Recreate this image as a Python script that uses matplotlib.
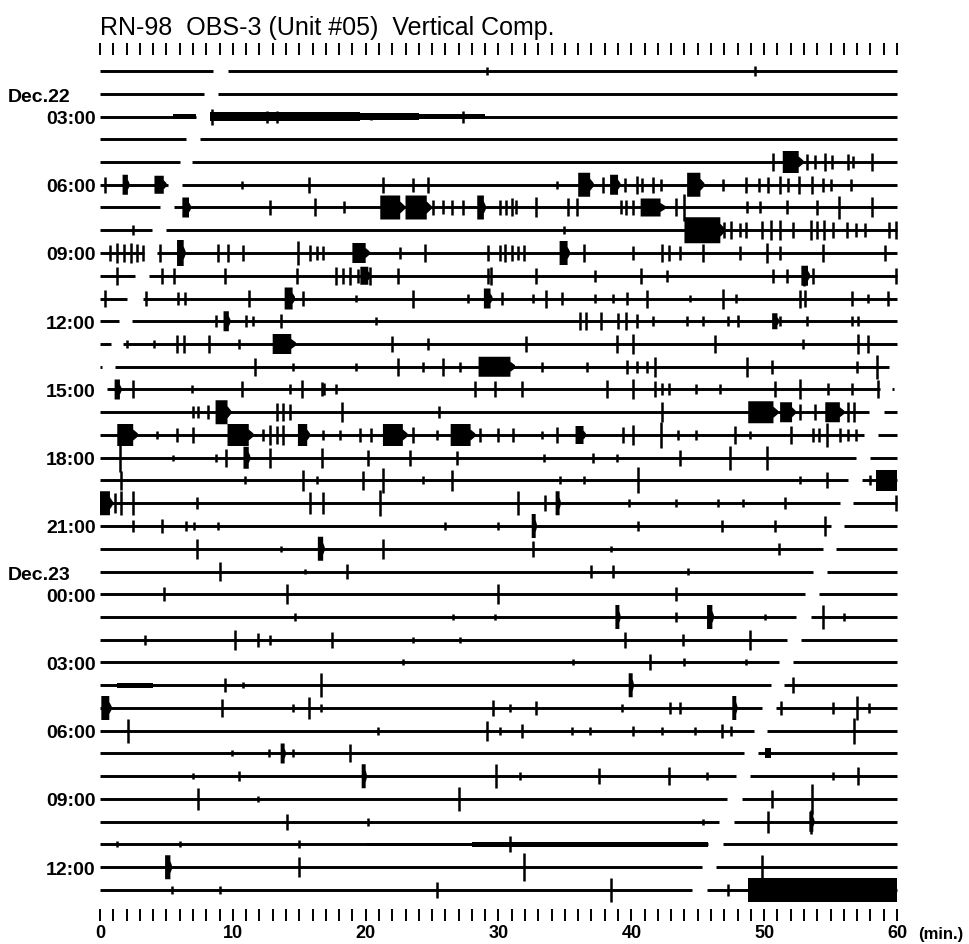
import matplotlib
matplotlib.use("Agg")
import matplotlib.pyplot as plt

# helicorder record, one row per hour: 01:00 Dec.22 .. 13:00 Dec.23
hour_rows = [2, 5, 8, 11, 14, 17, 20, 23, 26, 29, 32, 35]
hour_labels = ["03:00", "06:00", "09:00", "12:00", "15:00", "18:00",
               "21:00", "00:00", "03:00", "06:00", "09:00", "12:00"]
day_labels = ["Dec.22", "Dec.23"]
day_rows = [2, 23]

# recorded stretches of each row (minutes)
segments = [
    [(0, 8.5), (9.6, 60)], [(0, 7.8), (8.9, 60)], [(0, 7.2), (8.3, 60)],
    [(0, 6.5), (7.5, 60)], [(0, 6.0), (6.9, 60)], [(0, 5.1), (6.2, 60)],
    [(0, 4.5), (5.6, 60)], [(0, 3.9), (5.0, 60)], [(0, 3.3), (4.3, 60)],
    [(0, 2.6), (3.7, 60)], [(0, 2.0), (3.2, 60)], [(0, 1.4), (2.4, 60)],
    [(0, 0.8), (1.7, 60)], [(0, 0.15), (1.1, 59.4)], [(0.5, 58.7), (59.6, 59.8)],
    [(0, 57.9), (59.0, 60)], [(0, 57.5), (58.6, 60)], [(0, 56.9), (58.0, 60)],
    [(0, 56.3), (57.4, 60)], [(0, 55.7), (56.7, 60)], [(0, 55.0), (56.0, 60)],
    [(0, 54.4), (55.4, 60)], [(0, 53.7), (54.7, 60)], [(0, 53.1), (54.1, 60)],
    [(0, 52.4), (53.5, 60)], [(0, 51.7), (52.8, 60)], [(0, 51.1), (52.2, 60)],
    [(0, 50.5), (51.5, 60)], [(0, 49.8), (50.9, 60)], [(0, 49.2), (50.2, 60)],
    [(0, 48.5), (49.5, 60)], [(0, 47.9), (48.9, 60)], [(0, 47.2), (48.3, 60)],
    [(0, 46.6), (47.7, 60)], [(0, 45.8), (46.9, 60)], [(0, 45.3), (46.4, 60)],
    [(0, 44.6), (45.7, 60)],
]

# short events: (minute, amplitude)
spikes = [
    [(29.1, 4), (49.3, 5)],
    [],
    [(8.4, 8), (12.6, 6), (13.3, 6), (20.4, 3), (27.3, 6)],
    [],
    [(50.7, 9), (53.2, 8), (53.8, 7), (54.6, 9), (55.1, 7), (56.3, 8), (56.7, 6), (58.1, 9)],
    [(0.4, 8), (10.7, 4), (15.7, 8), (21.3, 8), (23.6, 7), (24.7, 8), (34.4, 4), (37.9, 8),
     (39.5, 7), (40.4, 9), (40.8, 7), (41.6, 8), (42.2, 6), (46.9, 6), (48.6, 8), (49.6, 7),
     (50.3, 8), (51.2, 9), (51.8, 7), (52.6, 9), (53.6, 9), (54.4, 7), (55.0, 6), (56.5, 6)],
    [(12.8, 8), (16.2, 9), (18.4, 6), (25.1, 8), (25.8, 7), (26.5, 8), (27.3, 8), (30.1, 8),
     (30.6, 8), (31.0, 9), (31.3, 7), (32.8, 10), (35.2, 9), (35.9, 9), (39.2, 7), (39.6, 8),
     (40.1, 8), (43.4, 9), (44.0, 14), (48.7, 6), (49.7, 6), (51.7, 7), (54.0, 8), (55.6, 12),
     (58.1, 10)],
    [(2.5, 5), (34.9, 4), (47.0, 8), (47.5, 9), (48.2, 7), (48.6, 8), (49.8, 9), (50.5, 10),
     (51.2, 10), (52.2, 8), (53.5, 10), (54.0, 9), (54.5, 10), (55.2, 8), (56.2, 8), (56.9, 7),
     (57.6, 7), (59.4, 8), (59.9, 9)],
    [(0.75, 8), (1.3, 10), (1.8, 9), (2.3, 10), (2.8, 9), (3.2, 8), (4.5, 9), (8.9, 9),
     (9.6, 9), (10.8, 8), (14.9, 12), (15.8, 8), (16.3, 7), (16.8, 7), (22.6, 6), (24.5, 9),
     (29.2, 8), (30.1, 8), (30.5, 9), (31.0, 8), (31.5, 7), (31.9, 8), (36.4, 9), (40.1, 7),
     (42.3, 9), (42.8, 8), (43.7, 7), (45.4, 9), (48.2, 7), (50.2, 10), (51.2, 7), (54.4, 9),
     (59.1, 8)],
    [(1.3, 9), (4.7, 8), (5.6, 8), (9.4, 8), (14.8, 8), (17.8, 9), (18.3, 8), (18.8, 9),
     (19.4, 7), (20.3, 9), (22.4, 8), (29.2, 8), (29.4, 9), (32.8, 8), (37.3, 6), (40.7, 8),
     (42.7, 6), (50.7, 7), (51.7, 7), (53.0, 10), (53.7, 8), (59.9, 8)],
    [(0.4, 8), (3.5, 7), (5.9, 6), (6.4, 6), (11.2, 8), (15.3, 7), (19.3, 4), (23.6, 9),
     (27.7, 5), (30.3, 6), (32.6, 5), (33.6, 9), (34.8, 6), (37.3, 5), (38.6, 5), (39.7, 6),
     (41.2, 9), (44.4, 4), (46.9, 10), (47.9, 5), (52.7, 9), (53.1, 8), (56.6, 7), (57.8, 5),
     (59.3, 7)],
    [(8.7, 6), (11.0, 6), (11.5, 5), (13.6, 7), (20.8, 4), (36.1, 9), (36.6, 9), (37.7, 9),
     (39.0, 8), (39.6, 9), (40.4, 7), (41.6, 5), (44.2, 5), (45.4, 5), (47.3, 5), (48.0, 6),
     (51.2, 5), (53.2, 5), (56.6, 5), (57.1, 5)],
    [(2.0, 4), (4.1, 4), (5.8, 9), (6.3, 9), (8.2, 9), (10.5, 5), (22.0, 8), (24.7, 6),
     (32.1, 8), (38.9, 9), (40.1, 10), (46.3, 9), (52.9, 5), (57.1, 10), (57.8, 9)],
    [(11.7, 9), (14.5, 4), (19.3, 4), (22.4, 9), (24.3, 5), (25.8, 9), (27.1, 5), (33.3, 5),
     (36.7, 5), (39.7, 7), (40.4, 6), (41.2, 6), (41.8, 10), (48.7, 10), (50.6, 7), (57.0, 6),
     (58.5, 12)],
    [(2.5, 9), (6.9, 4), (10.7, 8), (14.3, 5), (15.2, 9), (16.7, 7), (16.9, 6), (17.8, 5),
     (28.2, 8), (29.7, 8), (31.8, 8), (38.2, 9), (40.1, 10), (41.8, 8), (42.3, 6), (42.8, 6),
     (44.9, 5), (46.7, 5), (50.8, 8), (52.7, 10), (54.8, 6), (56.6, 6), (58.6, 9)],
    [(7.0, 6), (7.4, 6), (8.1, 7), (13.3, 9), (13.8, 9), (14.3, 8), (18.2, 10), (25.5, 6),
     (42.3, 10), (52.7, 8), (53.8, 8), (56.3, 10), (56.8, 10)],
    [(4.3, 4), (5.8, 7), (7.0, 8), (12.3, 6), (12.8, 10), (13.3, 9), (13.8, 10), (16.8, 5),
     (18.1, 5), (19.6, 7), (20.4, 7), (23.6, 8), (25.4, 5), (28.6, 7), (30.0, 7), (31.1, 7),
     (33.3, 4), (34.4, 8), (39.4, 8), (40.1, 10), (42.2, 13), (43.5, 5), (44.9, 5), (47.8, 9),
     (48.9, 4), (52.0, 9), (53.7, 7), (54.1, 7), (54.7, 12), (55.7, 7), (56.3, 6), (56.9, 6)],
    [(1.5, 14), (5.5, 3), (8.7, 4), (9.5, 9), (12.8, 10), (16.7, 10), (20.2, 8), (23.3, 8),
     (26.9, 7), (33.4, 4), (37.1, 5), (38.9, 4), (43.7, 8), (47.4, 12), (50.2, 12)],
    [(1.6, 10), (10.9, 4), (15.3, 11), (16.3, 4), (19.8, 10), (21.3, 12), (24.3, 4), (26.5, 11),
     (34.6, 4), (36.4, 4), (40.5, 13), (52.7, 4), (54.7, 8), (58.0, 5)],
    [(1.1, 10), (1.6, 12), (2.5, 12), (7.3, 6), (15.8, 11), (16.8, 11), (21.1, 13), (31.5, 12),
     (33.5, 8), (39.8, 4), (43.4, 4), (46.5, 4), (48.4, 4), (51.6, 6), (59.9, 8)],
    [(2.5, 6), (4.7, 7), (6.5, 5), (7.1, 4), (8.9, 4), (26.0, 4), (30.0, 4), (32.6, 10),
     (40.5, 5), (46.8, 6), (50.8, 6), (54.6, 10)],
    [(7.3, 10), (13.6, 3), (21.3, 10), (32.6, 8), (38.5, 3), (51.1, 6)],
    [(9.0, 10), (15.4, 3), (18.6, 8), (37.0, 7), (38.6, 7), (44.3, 4)],
    [(4.8, 7), (14.1, 10), (30.0, 10), (43.4, 7)],
    [(14.7, 4), (26.6, 3), (29.7, 3), (43.4, 5), (50.1, 3), (54.4, 12), (56.0, 4)],
    [(3.4, 5), (10.2, 10), (11.9, 7), (12.8, 5), (17.5, 8), (23.6, 3), (27.1, 3), (39.5, 8),
     (43.9, 6), (48.9, 10)],
    [(22.8, 3), (35.6, 3), (41.4, 8), (44.0, 4), (48.6, 3)],
    [(9.4, 7), (10.8, 3), (16.6, 12), (52.2, 8)],
    [(9.2, 9), (14.5, 4), (15.7, 11), (16.6, 4), (29.6, 8), (30.9, 4), (32.8, 7), (39.3, 4),
     (42.9, 6), (43.7, 6), (51.3, 7), (55.2, 6), (57.0, 12), (57.9, 5)],
    [(2.1, 12), (20.9, 4), (29.1, 10), (30.1, 4), (31.8, 7), (35.5, 4), (36.9, 4), (40.1, 5),
     (42.3, 4), (44.8, 4), (46.8, 7), (47.5, 5), (56.8, 13)],
    [(9.9, 3), (12.7, 4), (14.5, 4), (18.8, 9)],
    [(7.0, 3), (10.5, 5), (29.8, 12), (31.6, 4), (37.6, 8), (42.8, 9), (45.7, 4), (55.2, 4),
     (57.1, 9)],
    [(7.4, 11), (11.9, 3), (27.0, 12), (50.6, 9), (53.6, 15)],
    [(14.1, 8), (20.2, 4), (45.4, 3), (50.3, 11), (53.5, 12)],
    [(1.3, 3), (6.0, 3), (15.0, 4), (30.9, 8)],
    [(15.0, 10), (31.9, 14), (49.8, 12)],
    [(5.4, 4), (9.0, 4), (25.4, 8), (38.5, 12), (47.3, 6)],
]

# longer wave trains: (start, end, amplitude)
bursts = [
    [], [],
    [(5.5, 7.2, 2.3), (8.3, 19.6, 4.5), (19.6, 24.0, 3.3), (24.0, 29.0, 2.3)],
    [],
    [(51.4, 52.6, 11)],
    [(1.7, 2.1, 10), (4.1, 4.8, 9), (36.0, 36.9, 12), (38.4, 39.0, 10), (44.2, 45.2, 12)],
    [(6.2, 6.7, 10), (21.1, 22.6, 12), (23.0, 24.6, 12), (28.4, 28.9, 12), (40.7, 42.2, 9)],
    [(44.0, 46.7, 13)],
    [(5.8, 6.3, 13), (19.0, 20.0, 10), (34.6, 35.2, 12)],
    [(19.6, 20.2, 9), (52.8, 53.3, 10)],
    [(13.9, 14.5, 11), (28.9, 29.4, 10)],
    [(9.3, 9.7, 10), (50.6, 51.0, 8)],
    [(13.0, 14.4, 10)],
    [(28.5, 30.9, 10)],
    [(1.1, 1.5, 10)],
    [(8.7, 9.6, 12), (48.8, 50.7, 11), (51.2, 52.1, 10), (54.6, 55.7, 10)],
    [(1.3, 2.5, 11), (9.6, 11.2, 11), (14.9, 15.6, 11), (21.3, 22.8, 11), (26.4, 27.9, 11),
     (35.8, 36.4, 9)],
    [(10.8, 11.2, 11)],
    [(58.4, 60.0, 11)],
    [(0.0, 0.75, 12), (34.3, 34.6, 12)],
    [(32.5, 32.8, 12)],
    [(16.4, 16.8, 12)],
    [], [],
    [(38.8, 39.1, 12), (45.7, 46.1, 12)],
    [], [],
    [(1.3, 4.0, 2.3), (39.8, 40.1, 12)],
    [(0.1, 0.7, 12), (47.6, 47.9, 12)],
    [],
    [(13.6, 13.9, 10), (50.1, 50.5, 5)],
    [(19.7, 20.0, 12)],
    [],
    [(53.4, 53.7, 10)],
    [(20.0, 28.0, 1.8), (28.0, 45.8, 2.4)],
    [(4.9, 5.3, 12)],
    [(48.8, 60.0, 12)],
]

AMP = 1 / 22.75  # amplitude units -> row spacing

plt.rcParams['font.family'] = ['Liberation Sans', 'DejaVu Sans']

fig = plt.figure(figsize=(9.7, 9.45), dpi=100)
ax = fig.add_axes([100 / 970, 1 - 916 / 945, 797 / 970, 866 / 945])

for i in range(len(segments)):
    for s0, s1 in segments[i]:
        ax.plot([s0, s1], [i, i], color='black', lw=2.1, solid_capstyle='butt', clip_on=False)
    for t, a in spikes[i]:
        ax.vlines(t, i - a * AMP, i + a * AMP, color='black', lw=1.8, clip_on=False)
    for t0, t1, a in bursts[i]:
        h = a * AMP
        if t1 >= 60 or a < 6:
            xs = [t0, t0, t1, t1]
            ys = [i - h, i + h, i + h, i - h]
        else:
            # short decaying coda after the main wave train
            d = min(0.3 * (t1 - t0), 0.35)
            xs = [t0, t0, t1, t1, t1 + d, t1 + d, t1, t1]
            ys = [i - h, i + h, i + h, i + 0.5 * h, i + 0.07, i - 0.07, i - 0.5 * h, i - h]
        ax.fill(xs, ys, color='black', lw=0, clip_on=False)

ax.set_xlim(0, 60)
ax.set_ylim(36 + 25 / 22.75, -22 / 22.75)

for sp in ax.spines.values():
    sp.set_visible(False)

ax.set_xticks(range(61))
ax.set_xticklabels([str(m) if m % 10 == 0 else '' for m in range(61)],
                   fontsize=13, fontweight='bold')
ax.tick_params(axis='x', top=True, bottom=True, direction='inout', length=9,
               width=1.4, pad=2)

ax.set_yticks(hour_rows)
ax.set_yticklabels(hour_labels, fontsize=14, fontweight='bold')
ax.tick_params(axis='y', length=0, pad=3)

for lab, r in zip(day_labels, day_rows):
    y_px = 72 + 22.75 * r - 20
    fig.text(8 / 970, 1 - y_px / 945, lab, fontsize=14, fontweight='bold',
             ha='left', va='center')

fig.text(100 / 970, 1 - 28 / 945, "RN-98  OBS-3 (Unit #05)  Vertical Comp.",
         fontsize=18, ha='left', va='center')
fig.text(918 / 970, 1 - 935 / 945, "(min.)", fontsize=12, fontweight='bold',
         ha='left', va='center')

fig.savefig("out.png", dpi=100, facecolor='white')
